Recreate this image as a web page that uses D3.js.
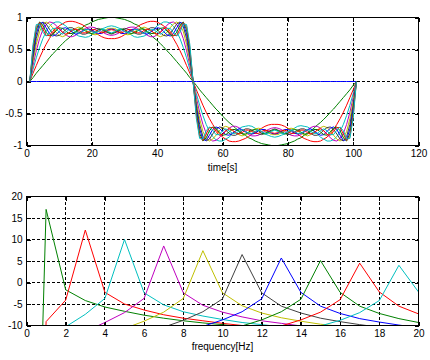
<!DOCTYPE html>
<html><head><meta charset="utf-8">
<script src="https://cdn.jsdelivr.net/npm/d3@7"></script>
<style>
body{margin:0;background:#fff}
svg{display:block}
</style></head><body>
<svg id="chart" width="430" height="360"></svg>
<script>
// ---------- top panel: partial sums of the square-wave series (0, 1, 3, ..., 19 harmonics) ----------
const timeSamples = [1,2,3,4,5,6,7,8,9,10,11,12,13,14,15,16,17,18,19,20,21,22,23,24,25,26,27,28,29,30,31,32,33,34,35,36,37,38,39,40,41,42,43,44,45,46,47,48,49,50,51,52,53,54,55,56,57,58,59,60,61,62,63,64,65,66,67,68,69,70,71,72,73,74,75,76,77,78,79,80,81,82,83,84,85,86,87,88,89,90,91,92,93,94,95,96,97,98,99,100,101];

const approx0 = [0,0,0,0,0,0,0,0,0,0,0,0,0,0,0,0,0,0,0,0,0,0,0,0,0,0,0,0,0,0,0,0,0,0,0,0,0,0,0,0,0,0,0,0,0,0,0,0,0,0,0,0,0,0,0,0,0,0,0,0,0,0,0,0,0,0,0,0,0,0,0,0,0,0,0,0,0,0,0,0,0,0,0,0,0,0,0,0,0,0,0,0,0,0,0,0,0,0,0,0,0];
const approx1 = [0,.06,.13,.19,.25,.31,.37,.43,.48,.54,.59,.64,.68,.73,.77,.81,.84,.88,.90,.93,.95,.97,.98,.99,1,1,1,.99,.98,.97,.95,.93,.90,.88,.84,.81,.77,.73,.68,.64,.59,.54,.48,.43,.37,.31,.25,.19,.13,.06,0,
 -.06,-.13,-.19,-.25,-.31,-.37,-.43,-.48,-.54,-.59,-.64,-.68,-.73,-.77,-.81,-.84,-.88,-.90,-.93,-.95,-.97,-.98,-.99,-1,-1,-1,-.99,-.98,-.97,-.95,-.93,-.90,-.88,-.84,-.81,-.77,-.73,-.68,-.64,-.59,-.54,-.48,-.43,-.37,-.31,-.25,-.19,-.13,-.06,0];
const approx3 = [0,.13,.25,.37,.48,.58,.67,.75,.81,.87,.90,.93,.94,.94,.93,.91,.89,.86,.82,.79,.76,.73,.70,.68,.67,.67,.67,.68,.70,.73,.76,.79,.82,.86,.89,.91,.93,.94,.94,.93,.90,.87,.81,.75,.67,.58,.48,.37,.25,.13,0,
 -.13,-.25,-.37,-.48,-.58,-.67,-.75,-.81,-.87,-.90,-.93,-.94,-.94,-.93,-.91,-.89,-.86,-.82,-.79,-.76,-.73,-.70,-.68,-.67,-.67,-.67,-.68,-.70,-.73,-.76,-.79,-.82,-.86,-.89,-.91,-.93,-.94,-.94,-.93,-.90,-.87,-.81,-.75,-.67,-.58,-.48,-.37,-.25,-.13,0];
const approx5 = [0,.19,.37,.53,.67,.78,.86,.91,.93,.93,.90,.87,.82,.78,.74,.71,.70,.69,.70,.73,.76,.79,.82,.84,.86,.87,.86,.84,.82,.79,.76,.73,.70,.69,.70,.71,.74,.78,.82,.87,.90,.93,.93,.91,.86,.78,.67,.53,.37,.19,0,
 -.19,-.37,-.53,-.67,-.78,-.86,-.91,-.93,-.93,-.90,-.87,-.82,-.78,-.74,-.71,-.70,-.69,-.70,-.73,-.76,-.79,-.82,-.84,-.86,-.87,-.86,-.84,-.82,-.79,-.76,-.73,-.70,-.69,-.70,-.71,-.74,-.78,-.82,-.87,-.90,-.93,-.93,-.91,-.86,-.78,-.67,-.53,-.37,-.19,0];
const approx7 = [0,.25,.48,.67,.81,.89,.93,.92,.88,.82,.77,.73,.70,.70,.72,.76,.79,.83,.85,.85,.84,.81,.78,.75,.73,.72,.73,.75,.78,.81,.84,.85,.85,.83,.79,.76,.72,.70,.70,.73,.77,.82,.88,.92,.93,.89,.81,.67,.48,.25,0,
 -.25,-.48,-.67,-.81,-.89,-.93,-.92,-.88,-.82,-.77,-.73,-.70,-.70,-.72,-.76,-.79,-.83,-.85,-.85,-.84,-.81,-.78,-.75,-.73,-.72,-.73,-.75,-.78,-.81,-.84,-.85,-.85,-.83,-.79,-.76,-.72,-.70,-.70,-.73,-.77,-.82,-.88,-.92,-.93,-.89,-.81,-.67,-.48,-.25,0];
const approx9 = [0,.31,.58,.78,.89,.93,.90,.84,.77,.72,.70,.72,.76,.80,.83,.85,.83,.81,.77,.74,.73,.74,.77,.80,.83,.83,.83,.80,.77,.74,.73,.74,.77,.81,.83,.85,.83,.80,.76,.72,.70,.72,.77,.84,.90,.93,.89,.78,.58,.31,0,
 -.31,-.58,-.78,-.89,-.93,-.90,-.84,-.77,-.72,-.70,-.72,-.76,-.80,-.83,-.85,-.83,-.81,-.77,-.74,-.73,-.74,-.77,-.80,-.83,-.83,-.83,-.80,-.77,-.74,-.73,-.74,-.77,-.81,-.83,-.85,-.83,-.80,-.76,-.72,-.70,-.72,-.77,-.84,-.90,-.93,-.89,-.78,-.58,-.31,0];
const approx11 = [0,.37,.67,.86,.93,.90,.82,.75,.71,.72,.76,.81,.84,.84,.81,.77,.74,.74,.76,.79,.82,.83,.81,.78,.76,.74,.76,.78,.81,.83,.82,.79,.76,.74,.74,.77,.81,.84,.84,.81,.76,.72,.71,.75,.82,.90,.93,.86,.67,.37,0,
 -.37,-.67,-.86,-.93,-.90,-.82,-.75,-.71,-.72,-.76,-.81,-.84,-.84,-.81,-.77,-.74,-.74,-.76,-.79,-.82,-.83,-.81,-.78,-.76,-.74,-.76,-.78,-.81,-.83,-.82,-.79,-.76,-.74,-.74,-.77,-.81,-.84,-.84,-.81,-.76,-.72,-.71,-.75,-.82,-.90,-.93,-.86,-.67,-.37,0];
const approx13 = [0,.42,.74,.91,.92,.84,.75,.71,.73,.78,.83,.84,.81,.77,.74,.75,.78,.81,.82,.81,.77,.75,.75,.78,.81,.82,.81,.78,.75,.75,.77,.81,.82,.81,.78,.75,.74,.77,.81,.84,.83,.78,.73,.71,.75,.84,.92,.91,.74,.42,0,
 -.42,-.74,-.91,-.92,-.84,-.75,-.71,-.73,-.78,-.83,-.84,-.81,-.77,-.74,-.75,-.78,-.81,-.82,-.81,-.77,-.75,-.75,-.78,-.81,-.82,-.81,-.78,-.75,-.75,-.77,-.81,-.82,-.81,-.78,-.75,-.74,-.77,-.81,-.84,-.83,-.78,-.73,-.71,-.75,-.84,-.92,-.91,-.74,-.42,0];
const approx15 = [0,.48,.81,.93,.88,.77,.71,.73,.79,.84,.83,.79,.75,.75,.78,.82,.82,.79,.76,.75,.77,.81,.82,.80,.77,.75,.77,.80,.82,.81,.77,.75,.76,.79,.82,.82,.78,.75,.75,.79,.83,.84,.79,.73,.71,.77,.88,.93,.81,.48,0,
 -.48,-.81,-.93,-.88,-.77,-.71,-.73,-.79,-.84,-.83,-.79,-.75,-.75,-.78,-.82,-.82,-.79,-.76,-.75,-.77,-.81,-.82,-.80,-.77,-.75,-.77,-.80,-.82,-.81,-.77,-.75,-.76,-.79,-.82,-.82,-.78,-.75,-.75,-.79,-.83,-.84,-.79,-.73,-.71,-.77,-.88,-.93,-.81,-.48,0];
const approx17 = [0,.53,.86,.92,.82,.72,.72,.78,.84,.83,.77,.74,.76,.80,.82,.80,.76,.76,.78,.81,.81,.78,.76,.77,.80,.81,.80,.77,.76,.78,.81,.81,.78,.76,.76,.80,.82,.80,.76,.74,.77,.83,.84,.78,.72,.72,.82,.92,.86,.53,0,
 -.53,-.86,-.92,-.82,-.72,-.72,-.78,-.84,-.83,-.77,-.74,-.76,-.80,-.82,-.80,-.76,-.76,-.78,-.81,-.81,-.78,-.76,-.77,-.80,-.81,-.80,-.77,-.76,-.78,-.81,-.81,-.78,-.76,-.76,-.80,-.82,-.80,-.76,-.74,-.77,-.83,-.84,-.78,-.72,-.72,-.82,-.92,-.86,-.53,0];
const approx19 = [0,.58,.89,.90,.77,.71,.76,.83,.83,.77,.74,.77,.81,.81,.78,.75,.78,.81,.81,.78,.76,.78,.81,.81,.78,.76,.78,.81,.81,.78,.76,.78,.81,.81,.78,.75,.78,.81,.81,.77,.74,.77,.83,.83,.76,.71,.77,.90,.89,.58,0,
 -.58,-.89,-.90,-.77,-.71,-.76,-.83,-.83,-.77,-.74,-.77,-.81,-.81,-.78,-.75,-.78,-.81,-.81,-.78,-.76,-.78,-.81,-.81,-.78,-.76,-.78,-.81,-.81,-.78,-.76,-.78,-.81,-.81,-.78,-.75,-.78,-.81,-.81,-.77,-.74,-.77,-.83,-.83,-.76,-.71,-.77,-.90,-.89,-.58,0];

const timeTicks = [0,20,40,60,80,100,120];
const ampTicks = [-1,-0.5,0,0.5,1];

// ---------- bottom panel: spectrum (dB) of each harmonic ----------
const freqBins = [0,1,2,3,4,5,6,7,8,9,10,11,12,13,14,15,16,17,18,19,20];
const spec1  = [-143.0,17.0,-1.7,-4.2,-5.7,-6.7,-7.6,-8.3,-8.9,-9.4,-9.8,-10.3,-10.6,-11.0,-11.3,-11.5,-11.8,-12.0,-12.3,-12.5,-12.7];
const spec3  = [-150.4,-9.1,-4.1,12.2,-2.3,-5.0,-6.4,-7.5,-8.3,-8.9,-9.5,-10.0,-10.4,-10.7,-11.1,-11.4,-11.7,-11.9,-12.2,-12.4,-12.6];
const spec5  = [-153.2,-13.9,-10.3,-7.4,-3.7,10.0,-2.4,-5.2,-6.8,-7.8,-8.6,-9.3,-9.8,-10.3,-10.7,-11.1,-11.4,-11.7,-12.0,-12.2,-12.4];
const spec7  = [-151.8,-16.9,-13.6,-11.4,-9.3,-7.0,-3.7,8.5,-2.4,-5.3,-6.9,-8.0,-8.9,-9.5,-10.1,-10.5,-10.9,-11.3,-11.6,-11.9,-12.2];
const spec9  = [-148.6,-19.2,-16.0,-14.0,-12.3,-10.7,-9.0,-6.9,-3.7,7.4,-2.4,-5.4,-7.1,-8.2,-9.0,-9.7,-10.2,-10.7,-11.1,-11.5,-11.8];
const spec11 = [-148.0,-21.0,-17.9,-15.9,-14.4,-13.1,-11.7,-10.4,-8.8,-6.8,-3.8,6.5,-2.4,-5.5,-7.1,-8.3,-9.1,-9.8,-10.4,-10.8,-11.2];
const spec13 = [-148.7,-22.5,-19.5,-17.6,-16.1,-14.9,-13.7,-12.6,-11.5,-10.2,-8.7,-6.8,-3.8,5.7,-2.3,-5.5,-7.2,-8.4,-9.2,-9.9,-10.5];
const spec15 = [-159.7,-23.9,-20.8,-19.0,-17.6,-16.4,-15.4,-14.4,-13.4,-12.4,-11.3,-10.1,-8.7,-6.8,-3.9,5.1,-2.3,-5.5,-7.2,-8.4,-9.3];
const spec17 = [-143.6,-25.1,-22.0,-20.2,-18.8,-17.7,-16.7,-15.8,-15.0,-14.1,-13.2,-12.3,-11.3,-10.1,-8.7,-6.9,-4.0,4.5,-2.2,-5.5,-7.3];
const spec19 = [-149.7,-26.2,-23.1,-21.3,-20.0,-18.9,-17.9,-17.1,-16.3,-15.5,-14.7,-13.9,-13.1,-12.2,-11.3,-10.1,-8.8,-7.0,-4.2,4.0,-2.2];

const freqTicks = [0,2,4,6,8,10,12,14,16,18,20];
const dbTicks = [-10,-5,0,5,10,15,20];

const colorCycle = ['#0000ff','#008000','#ff0000','#00bfbf','#bf00bf','#bfbf00','#404040'];

const topSeries = [approx0,approx1,approx3,approx5,approx7,approx9,approx11,approx13,approx15,approx17,approx19];
const bottomSeries = [spec1,spec3,spec5,spec7,spec9,spec11,spec13,spec15,spec17,spec19];

const FONT = "'Liberation Sans', Arial, Helvetica, sans-serif";
const svg = d3.select('#chart');

function drawPanel(p){
  const x = d3.scaleLinear().domain(p.xDomain).range([p.left, p.right]);
  const y = d3.scaleLinear().domain(p.yDomain).range([p.bottom, p.top]);
  const clipId = 'clip-' + p.name;
  svg.append('clipPath').attr('id', clipId).append('rect')
    .attr('x', p.left).attr('y', p.top - 0.5)
    .attr('width', p.right - p.left).attr('height', p.bottom - p.top + 1);
  const g = svg.append('g');

  // dashed grid
  g.append('g').selectAll('line').data(p.xTicks.slice(1, -1)).join('line')
    .attr('x1', d => Math.round(x(d) - 0.5) + 0.5).attr('x2', d => Math.round(x(d) - 0.5) + 0.5)
    .attr('y1', p.top).attr('y2', p.bottom)
    .attr('stroke', '#000').attr('stroke-width', 1).attr('stroke-dasharray', '3,2')
    .attr('shape-rendering', 'crispEdges');
  g.append('g').selectAll('line').data(p.yTicks.slice(1, -1)).join('line')
    .attr('y1', d => Math.round(y(d) - 0.5) + 0.5).attr('y2', d => Math.round(y(d) - 0.5) + 0.5)
    .attr('x1', p.left).attr('x2', p.right)
    .attr('stroke', '#000').attr('stroke-width', 1).attr('stroke-dasharray', '3,2')
    .attr('shape-rendering', 'crispEdges');

  // data lines
  const lines = g.append('g').attr('clip-path', `url(#${clipId})`);
  p.series.forEach((vals, i) => {
    const line = d3.line().x((d, j) => x(p.xValues[j])).y(d => y(d));
    lines.append('path').datum(vals)
      .attr('d', line)
      .attr('fill', 'none')
      .attr('stroke', colorCycle[(i + p.colorOffset) % colorCycle.length])
      .attr('stroke-width', 1)
      .attr('stroke-linejoin', 'round');
  });

  // axes (ticks inside)
  const fmt = d => String(d);
  const styleAxis = a => {
    a.select('.domain').remove();
    a.attr('font-family', FONT).attr('font-size', 10);
    a.selectAll('text').attr('fill', '#000');
    a.selectAll('line').attr('stroke', '#000').attr('shape-rendering', 'crispEdges');
  };
  g.append('g').attr('transform', `translate(0,${p.bottom})`)
    .call(d3.axisBottom(x).tickValues(p.xTicks).tickFormat(fmt).tickSizeInner(-4).tickSizeOuter(0).tickPadding(4))
    .call(styleAxis);
  g.append('g').attr('transform', `translate(0,${p.top})`)
    .call(d3.axisTop(x).tickValues(p.xTicks).tickFormat('').tickSizeInner(-4).tickSizeOuter(0))
    .call(styleAxis);
  g.append('g').attr('transform', `translate(${p.left},0)`)
    .call(d3.axisLeft(y).tickValues(p.yTicks).tickFormat(fmt).tickSizeInner(-4).tickSizeOuter(0).tickPadding(4))
    .call(styleAxis);
  g.append('g').attr('transform', `translate(${p.right},0)`)
    .call(d3.axisRight(y).tickValues(p.yTicks).tickFormat('').tickSizeInner(-4).tickSizeOuter(0))
    .call(styleAxis);

  // box
  g.append('rect')
    .attr('x', p.left).attr('y', p.top)
    .attr('width', p.right - p.left).attr('height', p.bottom - p.top)
    .attr('fill', 'none').attr('stroke', '#000').attr('stroke-width', 1)
    .attr('shape-rendering', 'crispEdges');

  // x label
  svg.append('text')
    .attr('x', (p.left + p.right) / 2).attr('y', p.labelY)
    .attr('text-anchor', 'middle')
    .attr('font-family', FONT).attr('font-size', 10).attr('fill', '#000')
    .text(p.xLabel);
}

drawPanel({
  name: 'time', left: 26.5, right: 418.5, top: 17.5, bottom: 145.5,
  xDomain: [0, 120], yDomain: [-1, 1], xTicks: timeTicks, yTicks: ampTicks,
  xValues: timeSamples, series: topSeries, colorOffset: 0,
  xLabel: 'time[s]', labelY: 171
});
drawPanel({
  name: 'freq', left: 26.5, right: 418.5, top: 196.5, bottom: 325.5,
  xDomain: [0, 20], yDomain: [-10, 20], xTicks: freqTicks, yTicks: dbTicks,
  xValues: freqBins, series: bottomSeries, colorOffset: 1,
  xLabel: 'frequency[Hz]', labelY: 350
});

const bad = topSeries.map(s => s.length).filter(n => n !== 101);
if (bad.length) throw new Error('series length mismatch: ' + topSeries.map(s => s.length).join(','));
</script>
</body></html>
